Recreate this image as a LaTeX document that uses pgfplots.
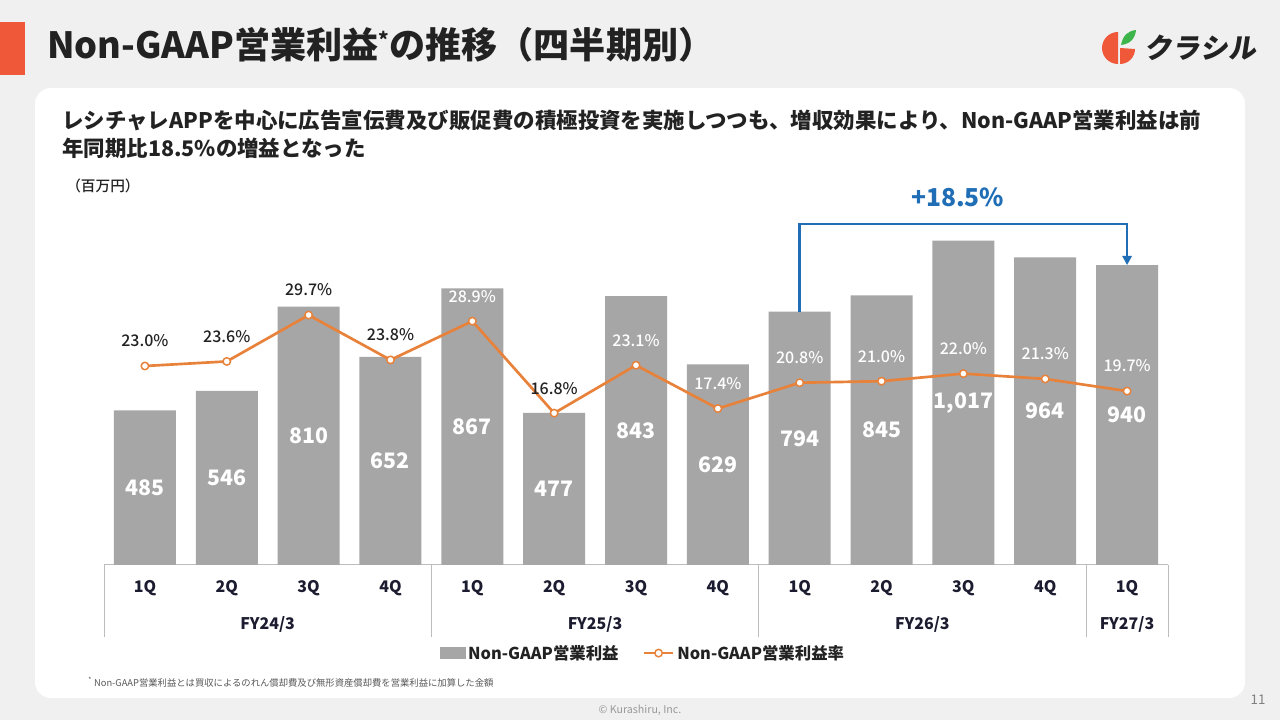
\documentclass[border=0pt]{standalone}
\usepackage{fontspec}
\setmainfont{Noto Sans CJK JP}
\newfontfamily\medfont{Noto Sans CJK JP Medium}
\usepackage{pgfplots}
\usepackage{pgfplotstable}
\pgfplotsset{compat=1.18}
\usetikzlibrary{arrows.meta}
\definecolor{barg}{HTML}{A6A6A6}
\definecolor{lineo}{HTML}{E8823A}
\definecolor{arrb}{HTML}{1F6EB6}
\definecolor{txt}{HTML}{222222}
\definecolor{navy}{HTML}{1C1C30}
\definecolor{bg}{HTML}{F0F0F0}
\definecolor{titleor}{HTML}{F0583A}
\definecolor{leaf}{HTML}{3DB54A}
\definecolor{tline}{HTML}{BDBDBD}

\pgfplotstableread{
x v lab
0 485 485
1 546 546
2 810 810
3 652 652
4 867 867
5 477 477
6 843 843
7 629 629
8 794 794
9 845 845
10 1017 {1,017}
11 964 964
12 940 940
}\bars

\pgfplotstableread{
x p
0 23.0
1 23.6
2 29.7
3 23.8
4 28.9
5 16.8
6 23.1
7 17.4
8 20.8
9 21.0
10 22.0
11 21.3
12 19.7
}\pct

\begin{document}
\begin{tikzpicture}[x=0.75pt,y=0.75pt]
\useasboundingbox (0,0) rectangle (1280,720);
\fill[bg] (0,0) rectangle (1280,720);
\fill[white, rounded corners=12pt] (35,22) rectangle (1245,632);
\fill[titleor] (0,645) rectangle (25,698);
\node[anchor=west, text=txt, font=\bfseries\fontsize{27.1}{31}\selectfont, inner sep=0] at (47,675) {Non-GAAP営業利益\raisebox{0.55ex}{\fontsize{15}{16}\selectfont *}の推移（四半期別）};
\node[anchor=west, text=txt, font=\bfseries\fontsize{16.1}{19}\selectfont, inner sep=0] at (62,600) {レシチャレAPPを中心に広告宣伝費及び販促費の積極投資を実施しつつも、増収効果により、Non-GAAP営業利益は前};
\node[anchor=west, text=txt, font=\bfseries\fontsize{16.1}{19}\selectfont, inner sep=0] at (62,572) {年同期比18.5\%の増益となった};
\node[anchor=west, text=txt, font=\medfont\fontsize{11}{13}\selectfont, inner sep=0] at (66,534) {（百万円）};
\node[anchor=west, text=black!65, font=\fontsize{7}{8}\selectfont, inner sep=0] at (88,38) {\textsuperscript{*} Non-GAAP営業利益とは買収によるのれん償却費及び無形資産償却費を営業利益に加算した金額};
\node[text=black!40, font=\fontsize{8}{9}\selectfont] at (640,10) {© Kurashiru, Inc.};
\node[text=black!50, font=\fontsize{10}{11}\selectfont] at (1258,20) {11};
% logo
\fill[titleor] (1118,688) arc (90:270:16) -- cycle;
\fill[titleor] (1120,672) -- (1120,656) arc (-90:0:15) -- cycle;
\fill[leaf] (1121,675) .. controls (1123,685) and (1128,689) .. (1136,690) .. controls (1135,681) and (1130,676) .. cycle;
\node[anchor=west, text=txt, font=\bfseries\fontsize{21}{24}\selectfont, inner sep=0, xslant=0.15] at (1146,672) {クラシル};

\begin{axis}[
  at={(78pt,116.25pt)}, anchor=south west,
  scale only axis, width=798pt, height=263.2pt,
  xmin=-0.5, xmax=12.5, ymin=0, ymax=1100,
  clip=false,
  axis x line*=bottom, axis y line=none,
  x axis line style={draw=tline, line width=0.75pt},
  xtick={0,...,12},
  xticklabels={1Q,2Q,3Q,4Q,1Q,2Q,3Q,4Q,1Q,2Q,3Q,4Q,1Q},
  major tick length=0pt,
  xticklabel style={font=\bfseries\fontsize{12}{14}\selectfont, text=navy, anchor=center, yshift=-17.25pt},
  legend style={at={(0.507,-0.251)}, anchor=center, draw=none, fill=none,
    legend columns=2, font=\bfseries\fontsize{12.3}{15}\selectfont, text=txt,
    /tikz/every even column/.append style={column sep=16pt}},
]
\addplot[ybar, bar width=46.5pt, fill=barg, draw=none,
  legend image code/.code={\fill[barg] (0pt,-4.5pt) rectangle (19pt,4.5pt);}]
  table[x=x,y=v]{\bars};
\addlegendentry{Non-GAAP営業利益}
\addlegendimage{lineo,
  legend image code/.code={\draw[mark repeat=2,mark phase=2,lineo,line width=2pt,mark=*,mark size=2.8pt,mark options={fill=white,draw=lineo,line width=1.1pt}] plot coordinates {(0pt,0pt) (11pt,0pt) (22pt,0pt)};}}
\addlegendentry{Non-GAAP営業利益率}
\addplot[forget plot, draw=none, mark=none, nodes near coords, point meta=explicit symbolic,
  nodes near coords style={anchor=center, text=white, font=\bfseries\fontsize{16}{18}\selectfont}]
  table[x=x, y expr=\thisrow{v}/2, meta=lab]{\bars};
\draw[tline, line width=0.75pt] (axis cs:-0.5,0) -- ++(0pt,-54pt);
\draw[tline, line width=0.75pt] (axis cs:3.5,0) -- ++(0pt,-54pt);
\draw[tline, line width=0.75pt] (axis cs:7.5,0) -- ++(0pt,-54pt);
\draw[tline, line width=0.75pt] (axis cs:11.5,0) -- ++(0pt,-54pt);
\draw[tline, line width=0.75pt] (axis cs:12.5,0) -- ++(0pt,-54pt);
\node[font=\bfseries\fontsize{12}{14}\selectfont, text=navy, yshift=-44.25pt] at (axis cs:1.5,0) {FY24/3};
\node[font=\bfseries\fontsize{12}{14}\selectfont, text=navy, yshift=-44.25pt] at (axis cs:5.5,0) {FY25/3};
\node[font=\bfseries\fontsize{12}{14}\selectfont, text=navy, yshift=-44.25pt] at (axis cs:9.5,0) {FY26/3};
\node[font=\bfseries\fontsize{12}{14}\selectfont, text=navy, yshift=-44.25pt] at (axis cs:12,0) {FY27/3};
\draw[arrb, line width=1.9pt, -{Triangle[length=7pt,width=7pt]}] (axis cs:8,794) -- (axis cs:8,1069) -- (axis cs:12,1069) -- (axis cs:12,940);
\node[font=\bfseries\fontsize{18.5}{20}\selectfont, text=arrb] at (axis cs:9.93,1153) {+18.5\%};
\end{axis}

\begin{axis}[
  at={(78pt,116.25pt)}, anchor=south west,
  scale only axis, width=798pt, height=263.2pt,
  xmin=-0.5, xmax=12.5, ymin=-3.18, ymax=42.99,
  clip=false, axis lines=none, xtick=\empty, ytick=\empty,
]
\addplot[lineo, line width=2pt, mark=*, mark size=2.8pt,
  mark options={fill=white, draw=lineo, line width=1.1pt}]
  table[x=x,y=p]{\pct};
\addplot[draw=none, mark=none, nodes near coords={\pgfplotspointmeta\%}, point meta=explicit symbolic,
  skip coords between index={4}{5}, skip coords between index={6}{13},
  nodes near coords style={anchor=center, yshift=18.75pt, text=txt, font=\medfont\fontsize{12}{14}\selectfont}]
  table[x=x,y=p,meta=p]{\pct};
\addplot[draw=none, mark=none, nodes near coords={\pgfplotspointmeta\%}, point meta=explicit symbolic,
  skip coords between index={0}{4}, skip coords between index={5}{6},
  nodes near coords style={anchor=center, yshift=18.75pt, text=white, font=\medfont\fontsize{12}{14}\selectfont}]
  table[x=x,y=p,meta=p]{\pct};
\end{axis}
\end{tikzpicture}
\end{document}
